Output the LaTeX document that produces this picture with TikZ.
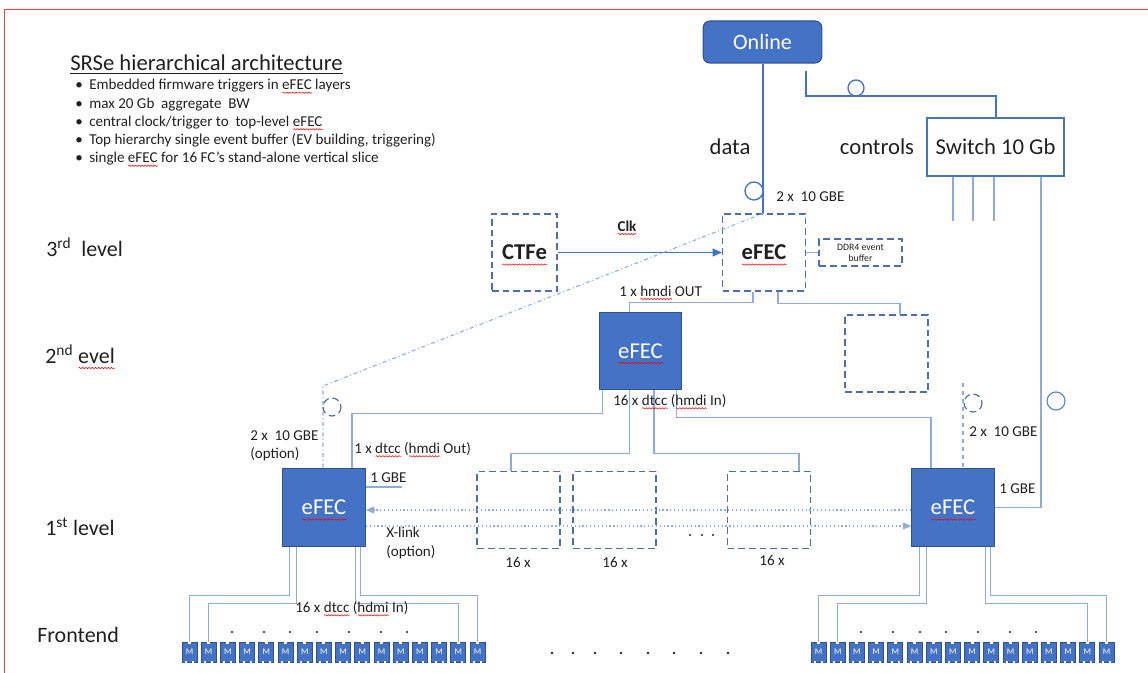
\documentclass[tikz,border=0pt]{standalone}
\usepackage{fontspec}
\setmainfont{Carlito}
\usetikzlibrary{arrows.meta,positioning,calc,decorations.pathmorphing}

\definecolor{efecblue}{HTML}{4472C4}
\definecolor{efecdark}{HTML}{2F528F}
\definecolor{linkblue}{HTML}{8FAADC}
\definecolor{dashblue}{HTML}{4F6EA8}
\definecolor{txt}{HTML}{202020}

% red wavy underline of the spell checker
\newsavebox{\spellbox}
\newcommand{\spell}[1]{\sbox{\spellbox}{#1}\rlap{\usebox{\spellbox}}%
  \makebox[\wd\spellbox][l]{\smash{\raisebox{-0.25em}{\tikz\draw[red,line width=0.4pt,
    decorate,decoration={snake,amplitude=0.5pt,segment length=2.4pt}] (0pt,0pt) -- (\the\wd\spellbox,0pt);}}}}

\tikzset{
  big/.style={font=\fontsize{17}{20}\selectfont},
  bigbold/.style={font=\fontsize{17}{20}\selectfont\bfseries},
  small/.style={font=\fontsize{11.3}{13.7}\selectfont},
  lbl/.style={small,anchor=west,inner sep=0pt,align=left,text=txt},
  lvl/.style={anchor=west,inner sep=0pt,text=txt,font=\fontsize{16.5}{19}\selectfont},
  sq/.style={minimum width=62pt,minimum height=58pt},
  solidbox/.style={big,draw=efecdark,fill=efecblue,text=white,inner sep=0pt,line width=0.8pt},
  dashbox/.style={draw=dashblue,line width=1.1pt,dash pattern=on 5pt off 3pt,inner sep=0pt,text=txt},
  chip/.style={draw=efecdark,fill=efecblue,text=white,inner sep=0pt,line width=0.5pt,
    minimum width=11.25pt,minimum height=15pt,font=\fontsize{6.5}{7}\selectfont},
  link/.style={draw=linkblue,line width=0.8pt},
  datalink/.style={draw=efecblue,line width=1.5pt},
  xlink/.style={draw=linkblue,line width=0.9pt,dotted},
}

\begin{document}
\begin{tikzpicture}[x=0.75pt,y=-0.75pt]
\useasboundingbox (0,0) rectangle (1148,673);

% slide frame
\draw[red!75] (4,673) -- (4,9) -- (1148,9);

% title and notes
\node[big,anchor=west,inner sep=0pt,text=txt] (title) at (70,63) {SRSe hierarchical architecture};
\draw[txt,line width=0.9pt] ($(title.base west)+(0,2.5)$) -- ($(title.base east)+(0,2.5)$);
\node[lbl] (notes) at (75,122.5) {%
  \makebox[10.5pt][l]{\textbullet}Embedded firmware triggers in \spell{eFEC} layers\\
  \makebox[10.5pt][l]{\textbullet}max 20 Gb\ \ aggregate\ \ BW\\
  \makebox[10.5pt][l]{\textbullet}central clock/trigger to\ \ top-level \spell{eFEC}\\
  \makebox[10.5pt][l]{\textbullet}Top hierarchy single event buffer (EV building, triggering)\\
  \makebox[10.5pt][l]{\textbullet}single \spell{eFEC} for 16 FC’s stand-alone vertical slice};

% level names
\node[lvl] (lvl3) at (46,247) {3\textsuperscript{rd}\ \ level};
\node[lvl] (lvl2) at (45,354) {2\textsuperscript{nd} \spell{evel}};
\node[lvl] (lvl1) at (45,527) {1\textsuperscript{st} level};
\node[lvl] (lvl0) at (37,635) {Frontend};

% online and switch
\node[solidbox,rounded corners=5pt,minimum width=89pt,minimum height=31.5pt,
  font=\fontsize{16.5}{19}\selectfont] (online) at (762.5,42) {Online};
\node[big,draw=efecblue,line width=1.1pt,minimum width=103pt,minimum height=43.5pt,text=txt] (switch) at (995.5,147) {Switch 10 Gb};
\node[big,text=txt] (dataLbl) at (730,147) {data};
\node[big,text=txt] (ctlLbl) at (877,147) {controls};

% 3rd level
\node[dashbox,minimum width=49pt,minimum height=58pt,bigbold] (ctfe) at (524.5,252.5) {\spell{CTFe}};
\node[dashbox,sq,bigbold] (efec3) at (764,252.5) {\spell{eFEC}};
\node[dashbox,minimum width=62pt,minimum height=20pt,align=center,
  font=\fontsize{7.3}{8.3}\selectfont] (ddr) at (860.5,252.5) {DDR4 event\\buffer};

% 2nd level
\node[solidbox,sq] (efec2) at (640.5,351) {\spell{eFEC}};
\node[dashbox,sq] (spare) at (886.5,353.5) {};

% 1st level
\node[solidbox,sq] (efecL) at (324,507.5) {\spell{eFEC}};
\node[solidbox,sq] (efecR) at (953,507.5) {\spell{eFEC}};
\foreach \n/\x in {A/518.5,B/614.5,C/769}
  \node[dashbox,sq] (fc\n) at (\x,510) {};

% frontend chips
\foreach \i in {1,...,16} {
  \node[chip] (chipL\i) at ({189.5+(\i-1)*19.2},652) {M};
  \node[chip] (chipR\i) at ({818.5+(\i-1)*19.2},652) {M};
  \foreach \s in {L,R} {
    \fill[white] ($(chip\s\i.north)+(-1.5,-0.5)$) rectangle ++(3,2.5);
    \fill[white] ($(chip\s\i.south)+(-4.5,0.5)$) rectangle ++(2,-2);
    \fill[white] ($(chip\s\i.south)+(2.5,0.5)$) rectangle ++(2,-2);
  }
}

% data and controls
\draw[datalink] (online.south) -- (online.south |- efec3.north);
\draw[efecblue,line width=1pt] (754,191) circle (9);
\coordinate (ctl) at (806,71);
\draw[datalink] (ctl) -- ++(0,25) -| (switch.north);
\draw[efecblue,line width=1pt] (856,88) circle (8);
\foreach \dx in {-42.5,-22.5,-1.5}
  \draw[link] ($(switch.south)+(\dx,0)$) -- ++(0,44);
\draw[link] ($(switch.south)+(45.5,0)$) |- (efecR.east);
\draw[efecblue!85,line width=0.9pt] (1056,401) circle (9);

% clock
\draw[draw=efecblue,line width=0.8pt,-{Triangle[length=7pt,width=6pt]}] (ctfe) -- (efec3);
\node[lbl,anchor=center,font=\fontsize{11.3}{13.7}\selectfont\bfseries] (clk) at (627,226) {\spell{Clk}};
\draw[link] (efec3) -- (ddr);
\node[lbl] (gbeTop) at (776,197) {2 x\ \ 10 GBE};

% 3rd to 2nd level
\draw[link] ($(efec3.south)+(-11,0)$) -- ++(0,11) -| ($(efec2.north)+(-11,0)$);
\draw[link] ($(efec3.south)+(14,0)$) -- ++(0,12) -| ($(spare.north)+(13.5,0)$);
\node[lbl] (hmdiOut) at (619,291) {1 x \spell{hmdi} OUT};

% 2nd to 1st level
\draw[link] ($(efec2.south west)+(4,0)$) -- ++(0,23) -| ($(efecL.north)+(28,0)$);
\draw[link] ($(efec2.south)+(-11,0)$) -- ++(0,63) -| ($(fcA.north)+(-7.5,0)$);
\draw[link] ($(efec2.south)+(13.5,0)$) -- ++(0,63) -| ($(fcC.north)+(30,0)$);
\draw[link] ($(efec2.south east)+(-6,0)$) -- ++(0,27) -| ($(efecR.north)+(-22,0)$);
\node[lbl] (hmdiIn) at (613,401) {16 x \spell{dtcc} (\spell{hmdi} In)};

% optional 10 GBE links
\coordinate (kneeL) at (323,386);
\draw[link,dash dot] (efec3.north) -- (kneeL) -- (efecL.north -| kneeL);
\draw[dashblue,line width=0.9pt,dash pattern=on 5pt off 3pt] (332,407) circle (9);
\coordinate (kneeR) at (963,383);
\draw[link,dashed] (kneeR) -- (kneeR |- efecR.north);
\draw[dashblue,line width=0.9pt,dash pattern=on 5pt off 3pt] (973,403) circle (9);

% 1st level labels
\node[lbl] (gbeOpt) at (250,446) {2 x\ \ 10 GBE\\(option)};
\node[lbl] (dtccOut) at (354,449) {1 x \spell{dtcc} (\spell{hmdi} Out)};
\node[lbl] (gbeL) at (370,478) {1 GBE};
\draw[link] ($(efecL.east)+(0,-20.5)$) -- ++(36,0);
\node[lbl] (gbeOptR) at (969,432) {2 x\ \ 10 GBE};
\node[lbl] (gbeR) at (999,489) {1 GBE};
\foreach \n/\x/\y in {A/518/562,B/615/562,C/772/560}
  \node[lbl,anchor=center] (cnt\n) at (\x,\y) {16 x};
\foreach \x in {690,702,713}
  \fill[txt] (\x,535) circle (1.1);

% x-link
\draw[xlink,-{Triangle[length=6pt,width=5pt]}] ($(efecR.west)+(0,2.5)$) -- ($(efecL.east)+(0,2.5)$);
\draw[xlink,-{Triangle[length=6pt,width=5pt]}] ($(efecL.east)+(0,18.5)$) -- ($(efecR.west)+(0,18.5)$);
\node[lbl] (xlinkLbl) at (386,543) {X-link\\(option)};

% 1st level to frontend
\draw[link] ($(efecL.south west)+(7,0)$) -- ++(0,49) -| (chipL1.north);
\draw[link] ($(efecL.south west)+(14,0)$) -- ++(0,57) -| (chipL2.north);
\draw[link] ($(efecL.south east)+(-10,0)$) -- ++(0,57) -| (chipL15.north);
\draw[link] ($(efecL.south east)+(-5,0)$) -- ++(0,49) -| (chipL16.north);
\draw[link] ($(efecR.south west)+(8,0)$) -- ++(0,49) -| (chipR1.north);
\draw[link] ($(efecR.south west)+(15,0)$) -- ++(0,57) -| (chipR2.north);
\draw[link] ($(efecR.south east)+(-9,0)$) -- ++(0,57) -| (chipR15.north);
\draw[link] ($(efecR.south east)+(-4,0)$) -- ++(0,49) -| (chipR16.north);
\node[lbl] (dtccIn) at (295,608) {16 x \spell{dtcc} (\spell{hdmi} In)};

% dots
\foreach \x in {232,264,290,317,349,381,407}
  \fill[txt] (\x,632) circle (1.2);
\foreach \x in {861,893,920,946,978,1010,1036}
  \fill[txt] (\x,632) circle (1.2);
\foreach \x in {552,573,595,621,648,674,701,728}
  \fill[txt] (\x,653) circle (1.3);

\end{tikzpicture}
\end{document}
